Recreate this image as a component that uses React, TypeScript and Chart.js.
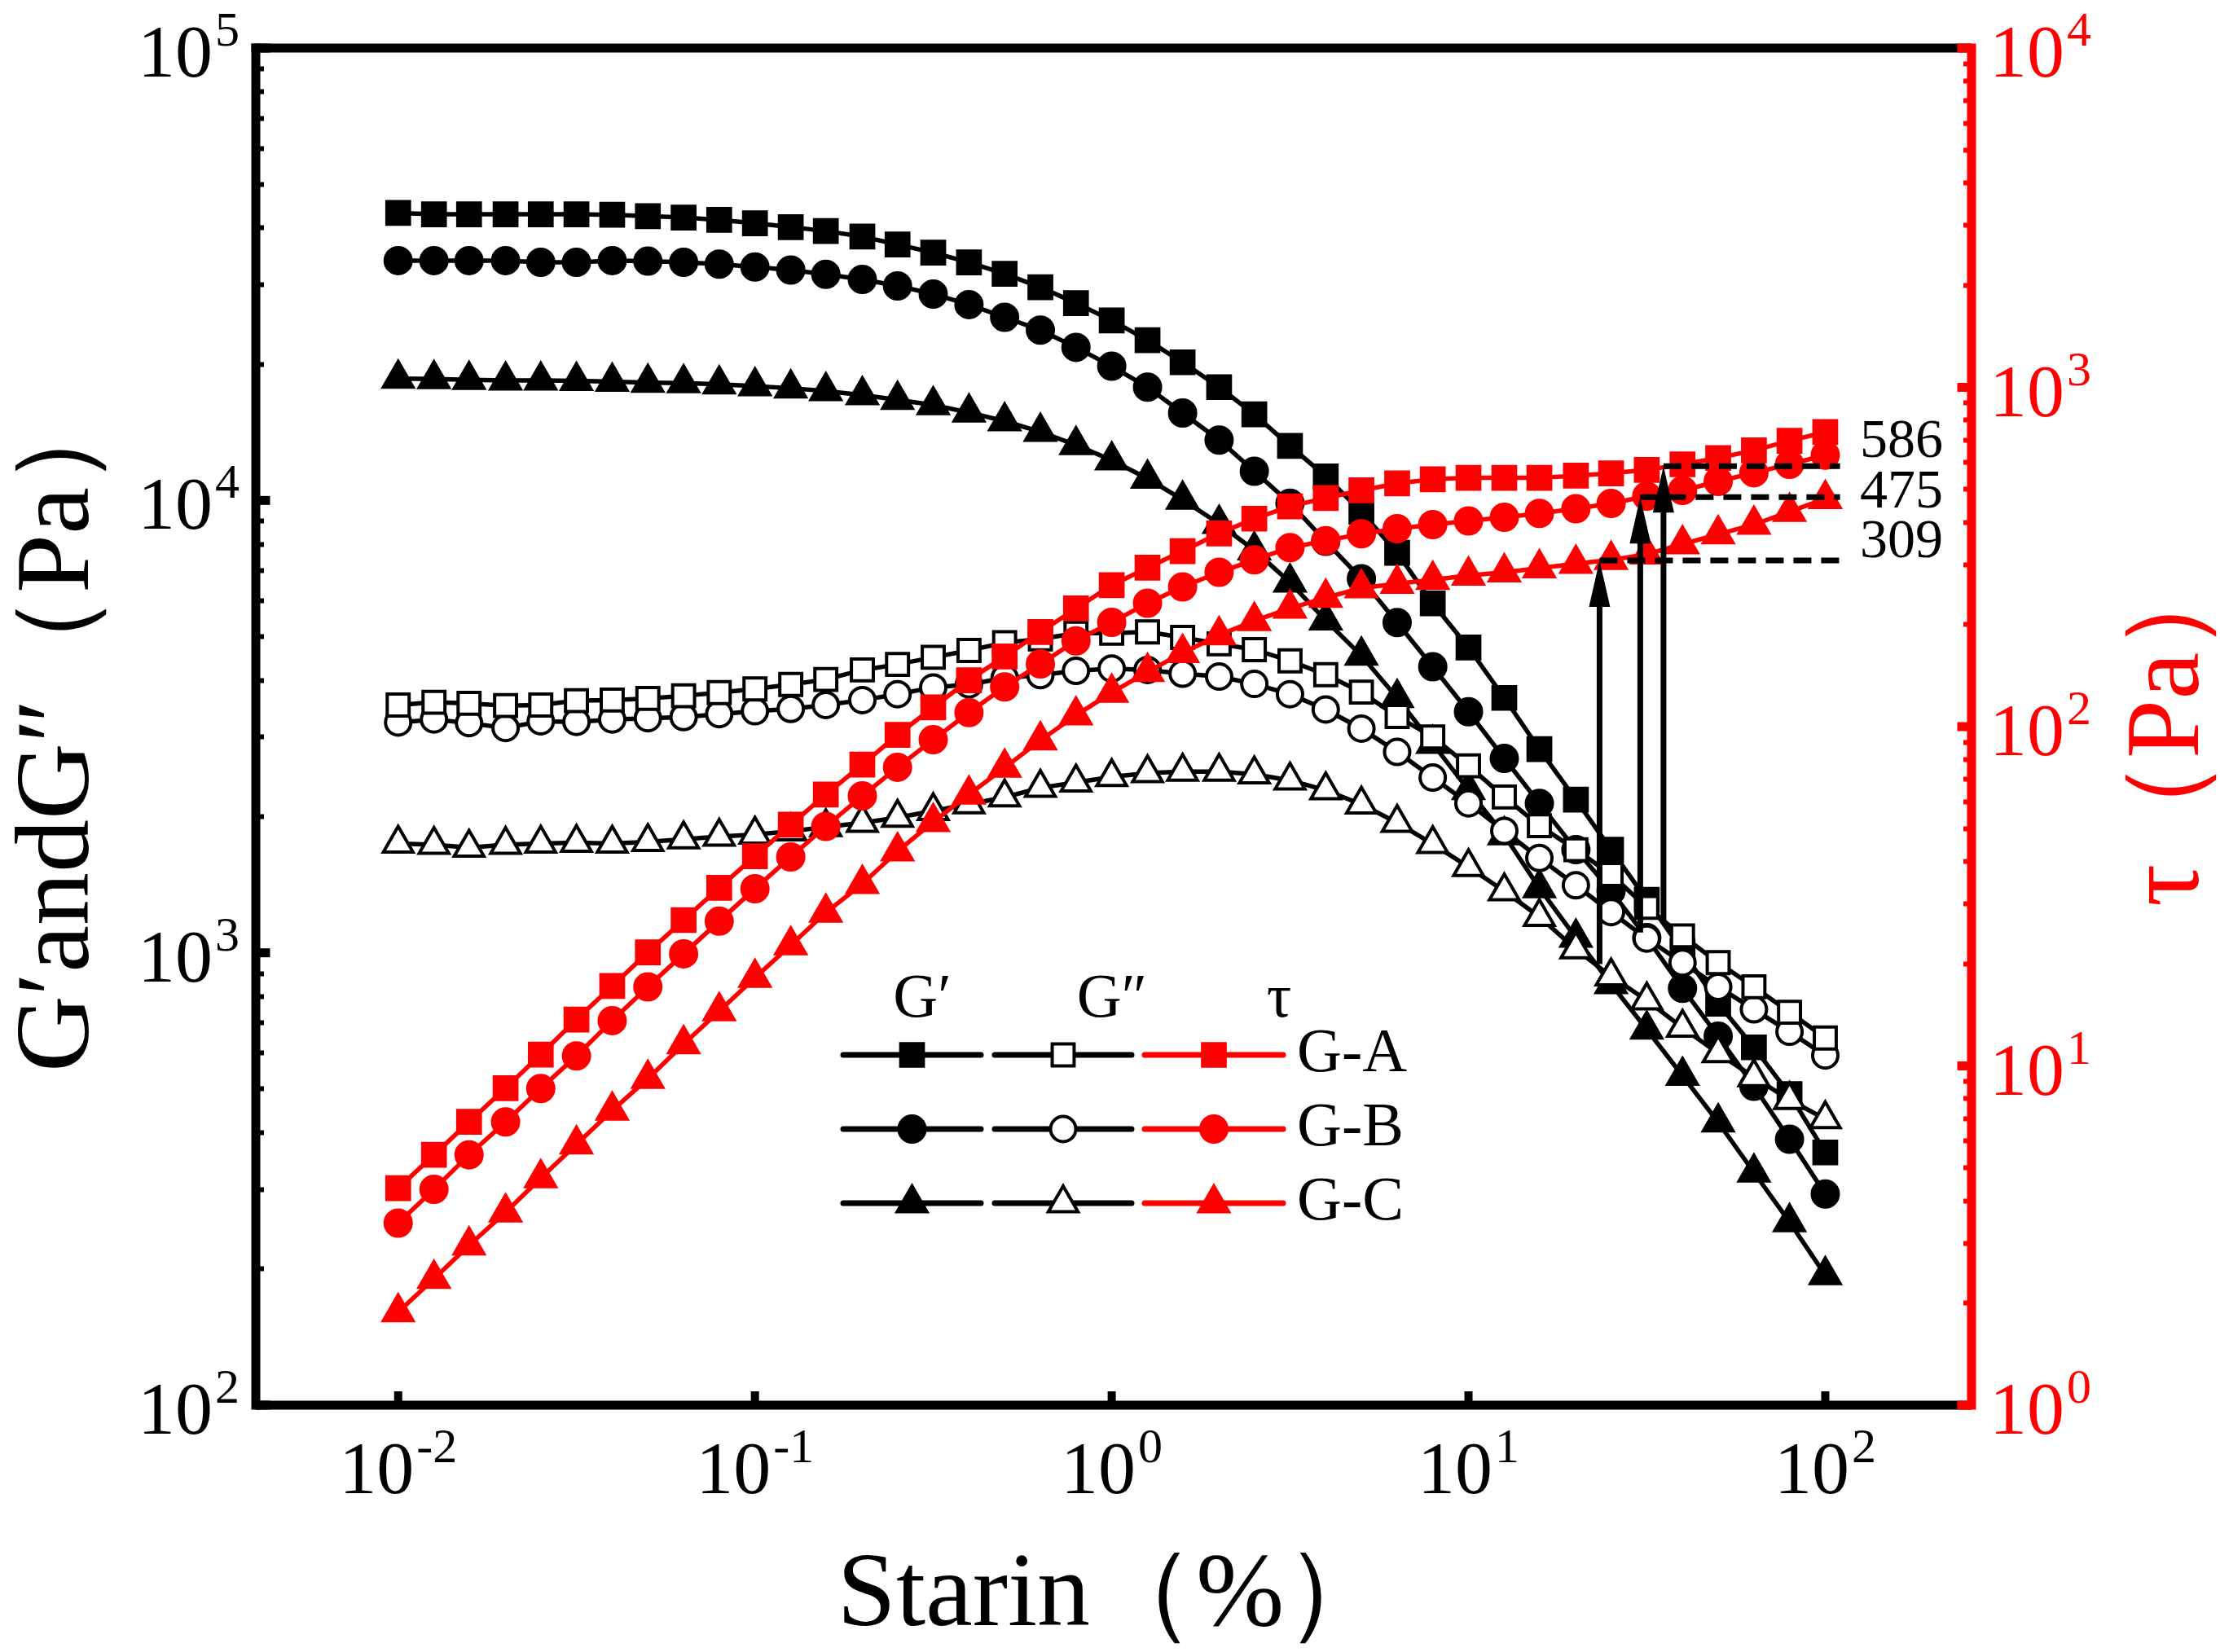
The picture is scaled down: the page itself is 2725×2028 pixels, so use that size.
import { useEffect, useRef } from "react"
import { Chart, registerables, type ChartConfiguration, type Plugin } from "chart.js"
import { drawPoint } from "chart.js/helpers"

Chart.register(...registerables)

// strain sweep (%), 10 points per decade
const strain = [
  0.01, 0.0126, 0.0158, 0.02, 0.0251, 0.0316, 0.0398, 0.0501, 0.0631, 0.0794,
  0.1, 0.126, 0.158, 0.2, 0.251, 0.316, 0.398, 0.501, 0.631, 0.794,
  1, 1.26, 1.58, 2, 2.51, 3.16, 3.98, 5.01, 6.31, 7.94,
  10, 12.6, 15.8, 20, 25.1, 31.6, 39.8, 50.1, 63.1, 79.4, 100,
]

// G' (Pa)
const gaStorage = [
  43200, 42900, 42900, 42900, 42900, 42900, 42800, 42500, 42200, 41700,
  41000, 40200, 39400, 38300, 36800, 35300, 33600, 31700, 29600, 27300,
  25000, 22600, 20200, 17800, 15500, 13200, 11300, 9440, 7660, 5920,
  4730, 3660, 2820, 2180, 1690, 1310, 1010, 772, 618, 487, 362,
]
const gbStorage = [
  33900, 33900, 33900, 33900, 33600, 33600, 33900, 33800, 33600, 33300,
  32800, 32300, 31600, 30800, 29800, 28600, 27100, 25400, 23800, 21800,
  19800, 17800, 15600, 13600, 11600, 9860, 8120, 6710, 5370, 4290,
  3410, 2690, 2140, 1690, 1370, 1080, 835, 654, 507, 387, 293,
]
const gcStorage = [
  18600, 18550, 18480, 18420, 18420, 18380, 18300, 18220, 18170, 18060,
  17900, 17700, 17450, 17100, 16700, 16250, 15650, 14970, 14180, 13260,
  12270, 11180, 10040, 8880, 7760, 6590, 5430, 4540, 3660, 2900,
  2290, 1820, 1390, 1080, 853, 677, 535, 422, 327, 254, 194,
]

// G'' (Pa)
const gaLoss = [
  3530, 3580, 3560, 3520, 3530, 3610, 3620, 3650, 3700, 3760,
  3830, 3920, 4020, 4220, 4340, 4500, 4660, 4850, 4940, 5090,
  5090, 5120, 4980, 4820, 4680, 4420, 4120, 3770, 3330, 3000,
  2590, 2210, 1910, 1690, 1490, 1260, 1090, 951, 841, 739, 648,
]
const gbLoss = [
  3230, 3280, 3220, 3140, 3250, 3240, 3280, 3300, 3320, 3370,
  3420, 3460, 3530, 3620, 3730, 3860, 3920, 4050, 4110, 4200,
  4250, 4220, 4140, 4080, 3930, 3730, 3450, 3130, 2780, 2440,
  2140, 1860, 1620, 1410, 1230, 1075, 951, 841, 750, 669, 593,
]
const gcLoss = [
  1745, 1733, 1709, 1733, 1745, 1752, 1745, 1758, 1782, 1807,
  1825, 1857, 1897, 1939, 1990, 2059, 2131, 2207, 2316, 2380,
  2447, 2497, 2515, 2515, 2481, 2406, 2288, 2129, 1939, 1740,
  1548, 1368, 1201, 1018, 887, 785, 683, 600, 531, 473, 429,
]

// shear stress tau (Pa)
const gaStress = [
  4.36, 5.47, 6.84, 8.6, 10.8, 13.7, 17.2, 21.6, 26.9, 33.5,
  41.5, 51.4, 63.1, 77.3, 94.6, 114, 137, 161, 190, 223,
  261, 294, 329, 371, 410, 446, 472, 497, 521, 536,
  541, 541, 541, 549, 558, 571, 593, 619, 652, 696, 738,
]
const gbStress = [
  3.44, 4.33, 5.47, 6.84, 8.58, 10.7, 13.6, 17.1, 21.4, 26.7,
  33.3, 41.3, 50.8, 62.5, 75.9, 91.5, 110, 131, 153, 179,
  203, 231, 258, 285, 310, 337, 353, 370, 383, 394,
  404, 414, 425, 439, 455, 478, 497, 528, 560, 593, 631,
]
const gcStress = [
  1.88, 2.36, 2.96, 3.7, 4.67, 5.87, 7.39, 9.17, 11.6, 14.5,
  18.2, 22.7, 28.3, 34.4, 42.9, 52.4, 63.1, 75.7, 91.1, 108,
  126, 145, 165, 186, 205, 223, 240, 256, 264, 271,
  279, 285, 293, 302, 310, 322, 345, 369, 394, 430, 469,
]

// flow points: G-C, G-B, G-A
const flowStress = [309, 475, 586]
const flowStrain = [23.3, 30.3, 35.2]
const crossoverModulus = [944, 1109, 1175]
const guideEndStrain = 110
const flowLabelStrain = 125
const flowLabelShift = [-22, -5, -29]

const xDecades = [0.01, 0.1, 1, 10, 100]
const leftDecades = [100, 1000, 10000, 100000]
const rightDecades = [1, 10, 100, 1000, 10000]

const legendHeads = ["G′", "G″", "τ"]
const legendRows = ["G-A", "G-B", "G-C"]

const BLACK = "#000000"
const RED = "#ff0000"
const SERIF = "'Times New Roman', 'Liberation Serif', serif"

type Style = "rect" | "circle" | "triangle"
const MARKS: Record<Style, { filled: number; open: number }> = {
  rect: { filled: 21, open: 19 },
  circle: { filled: 17, open: 15.5 },
  triangle: { filled: 23, open: 21 },
}

function series(label: string, values: number[], yAxisID: string, color: string, style: Style, open: boolean, order: number) {
  return {
    label,
    yAxisID,
    order,
    data: strain.map((x, i) => ({ x, y: values[i] })),
    borderColor: color,
    borderWidth: 5.5,
    pointStyle: style,
    pointRadius: open ? MARKS[style].open : MARKS[style].filled,
    pointBackgroundColor: open ? "#ffffff" : color,
    pointBorderColor: color,
    pointBorderWidth: open ? 4 : 2,
    tension: 0,
    fill: false,
  }
}

const isMinor = (v: number) => {
  const e = Math.floor(Math.log10(v) + 1e-9)
  const m = v / Math.pow(10, e)
  return Math.abs(m - Math.round(m)) < 1e-6 && Math.round(m) >= 2
}

function powerLabel(ctx: CanvasRenderingContext2D, v: number, x: number, baseline: number, align: "left" | "right" | "center", color: string) {
  const exp = Math.round(Math.log10(v))
  const expText = String(exp)
  ctx.fillStyle = color
  ctx.textAlign = "left"
  ctx.textBaseline = "alphabetic"
  ctx.font = `92px ${SERIF}`
  const wb = ctx.measureText("10").width
  ctx.font = `60px ${SERIF}`
  const we = ctx.measureText(expText).width
  const total = wb + 3 + we
  const x0 = align === "left" ? x : align === "right" ? x - total : x - total / 2
  ctx.font = `92px ${SERIF}`
  ctx.fillText("10", x0, baseline)
  ctx.font = `60px ${SERIF}`
  ctx.fillText(expText, x0 + wb + 3, baseline - 38)
}

function line(ctx: CanvasRenderingContext2D, x1: number, y1: number, x2: number, y2: number) {
  ctx.beginPath()
  ctx.moveTo(x1, y1)
  ctx.lineTo(x2, y2)
  ctx.stroke()
}

const decorations: Plugin<"line"> = {
  id: "decorations",
  afterDatasetsDraw(chart) {
    const { ctx, chartArea: a, scales } = chart
    const x = scales.x
    const y = scales.y
    const y2 = scales.y2
    ctx.save()

    // flow point guides and arrows
    ctx.strokeStyle = BLACK
    ctx.fillStyle = BLACK
    ctx.lineWidth = 7
    flowStress.forEach((tau, i) => {
      const px = x.getPixelForValue(flowStrain[i])
      const top = y2.getPixelForValue(tau)
      const bottom = y.getPixelForValue(crossoverModulus[i])
      ctx.setLineDash([22, 12])
      line(ctx, px, top, x.getPixelForValue(guideEndStrain), top)
      ctx.setLineDash([])
      line(ctx, px, bottom, px, top + 40)
      ctx.beginPath()
      ctx.moveTo(px, top)
      ctx.lineTo(px - 13, top + 57)
      ctx.lineTo(px + 13, top + 57)
      ctx.closePath()
      ctx.fill()
      ctx.font = `68px ${SERIF}`
      ctx.textAlign = "left"
      ctx.textBaseline = "middle"
      ctx.fillText(String(tau), x.getPixelForValue(flowLabelStrain), top + flowLabelShift[i])
    })

    // frame
    ctx.lineCap = "butt"
    ctx.lineWidth = 11
    ctx.strokeStyle = BLACK
    line(ctx, a.left - 5.5, a.top, a.right, a.top)
    line(ctx, a.left, a.bottom, a.right, a.bottom)
    line(ctx, a.left, a.top - 5.5, a.left, a.bottom + 5.5)
    ctx.strokeStyle = RED
    line(ctx, a.right, a.top - 5.5, a.right, a.bottom + 5.5)
    ctx.restore()
  },
  afterDraw(chart) {
    const { ctx, chartArea: a, scales } = chart
    const x = scales.x
    const y = scales.y
    const y2 = scales.y2
    ctx.save()

    // major ticks and labels
    ctx.lineWidth = 10
    ctx.strokeStyle = BLACK
    xDecades.forEach((v) => {
      const px = x.getPixelForValue(v)
      line(ctx, px, a.bottom, px, a.bottom - 17)
      powerLabel(ctx, v, px, a.bottom + 108, "center", BLACK)
    })
    leftDecades.forEach((v) => {
      const py = y.getPixelForValue(v)
      ctx.strokeStyle = BLACK
      ctx.lineWidth = 11
      line(ctx, a.left, py, a.left + 17.5, py)
      powerLabel(ctx, v, a.left - 20, py + 35, "right", BLACK)
    })
    rightDecades.forEach((v) => {
      const py = y2.getPixelForValue(v)
      ctx.strokeStyle = RED
      ctx.lineWidth = 11
      line(ctx, a.right, py, a.right - 17.5, py)
      powerLabel(ctx, v, a.right + 22, py + 35, "left", RED)
    })

    // right axis title, reading bottom to top
    ctx.save()
    ctx.translate(2664, (a.top + a.bottom) / 2)
    ctx.rotate(-Math.PI / 2)
    ctx.font = `130px ${SERIF}`
    ctx.fillStyle = RED
    ctx.textAlign = "center"
    ctx.textBaseline = "middle"
    ctx.fillText("τ（Pa）", 0, 0)
    ctx.restore()

    // legend
    const heads = [1132, 1365, 1570]
    const segs = [[1035, 1204], [1221, 1389], [1405, 1575]]
    const rowsY = [1295, 1386, 1477]
    const styles: Style[] = ["rect", "circle", "triangle"]
    ctx.font = `76px ${SERIF}`
    ctx.fillStyle = BLACK
    ctx.textAlign = "center"
    ctx.textBaseline = "middle"
    legendHeads.forEach((t, i) => ctx.fillText(t, heads[i], 1228))
    legendRows.forEach((label, r) => {
      const ry = rowsY[r]
      segs.forEach(([s, e], c) => {
        const color = c === 2 ? RED : BLACK
        const open = c === 1
        ctx.lineCap = "round"
        ctx.lineWidth = 7
        ctx.strokeStyle = color
        line(ctx, s, ry, e, ry)
        ctx.lineCap = "butt"
        ctx.lineJoin = "miter"
        ctx.fillStyle = open ? "#ffffff" : color
        ctx.lineWidth = open ? 4 : 2
        const radius = open ? MARKS[styles[r]].open : MARKS[styles[r]].filled
        drawPoint(ctx, { pointStyle: styles[r], radius, borderWidth: open ? 4 : 2, rotation: 0 }, (s + e) / 2, ry)
      })
      ctx.fillStyle = BLACK
      ctx.textAlign = "left"
      ctx.font = `76px ${SERIF}`
      ctx.fillText(label, 1592, ry)
    })
    ctx.restore()
  },
}

export default function App() {
  const chartRef = useRef<HTMLCanvasElement>(null)
  const chartInstance = useRef<Chart | null>(null)

  useEffect(() => {
    if (!chartRef.current) return
    const ctx = chartRef.current.getContext("2d")
    if (!ctx) return
    if (chartInstance.current) chartInstance.current.destroy()

    const datasets = [
      series("G-A τ", gaStress, "y2", RED, "rect", false, 0),
      series("G-B τ", gbStress, "y2", RED, "circle", false, 0),
      series("G-C τ", gcStress, "y2", RED, "triangle", false, 0),
      series("G-A G″", gaLoss, "y", BLACK, "rect", true, 1),
      series("G-B G″", gbLoss, "y", BLACK, "circle", true, 1),
      series("G-C G″", gcLoss, "y", BLACK, "triangle", true, 1),
      series("G-A G′", gaStorage, "y", BLACK, "rect", false, 2),
      series("G-B G′", gbStorage, "y", BLACK, "circle", false, 2),
      series("G-C G′", gcStorage, "y", BLACK, "triangle", false, 2),
    ]

    const minorTick = (color: string) => (c: any) => (c.tick && isMinor(c.tick.value) ? color : "rgba(0,0,0,0)")

    const config: ChartConfiguration<"line"> = {
      type: "line",
      data: { datasets: datasets as any },
      options: {
        animation: false,
        responsive: true,
        maintainAspectRatio: false,
        devicePixelRatio: 1,
        events: [],
        layout: { padding: { top: 59, left: 0, right: 0, bottom: 0 } },
        plugins: {
          legend: { display: false },
          tooltip: { enabled: false },
        },
        scales: {
          x: {
            type: "logarithmic",
            position: "bottom",
            min: 0.00399,
            max: 257,
            border: { display: false },
            grid: { drawOnChartArea: false, drawTicks: false },
            ticks: { display: false },
            title: {
              display: true,
              text: "Starin（%）",
              color: BLACK,
              font: { family: SERIF, size: 130, lineHeight: 1 },
              padding: { top: 0, bottom: 2 },
            },
            afterFit: (s) => {
              s.height = 303
            },
          },
          y: {
            type: "logarithmic",
            position: "left",
            min: 100,
            max: 100000,
            border: { display: false },
            grid: { drawOnChartArea: false, drawTicks: true, tickLength: -10, tickWidth: 6, tickColor: minorTick(BLACK) },
            ticks: { display: false, autoSkip: false },
            title: {
              display: true,
              text: "G′andG″（Pa）",
              color: BLACK,
              font: { family: SERIF, size: 130, lineHeight: 1 },
              padding: { top: 9, bottom: 0 },
            },
            afterFit: (s) => {
              s.width = 314
            },
          },
          y2: {
            type: "logarithmic",
            position: "right",
            min: 1,
            max: 10000,
            border: { display: false },
            grid: { drawOnChartArea: false, drawTicks: true, tickLength: -10, tickWidth: 6, tickColor: minorTick(RED) },
            ticks: { display: false, autoSkip: false },
            title: { display: false },
            afterFit: (s) => {
              s.width = 305
            },
          },
        },
      },
      plugins: [decorations],
    }

    chartInstance.current = new Chart(ctx, config)

    return () => {
      if (chartInstance.current) {
        chartInstance.current.destroy()
        chartInstance.current = null
      }
    }
  }, [])

  return (
    <div style={{ position: "fixed", left: 0, top: 0, width: "2725px", height: "2028px", background: "#ffffff" }}>
      <canvas ref={chartRef} />
    </div>
  )
}
